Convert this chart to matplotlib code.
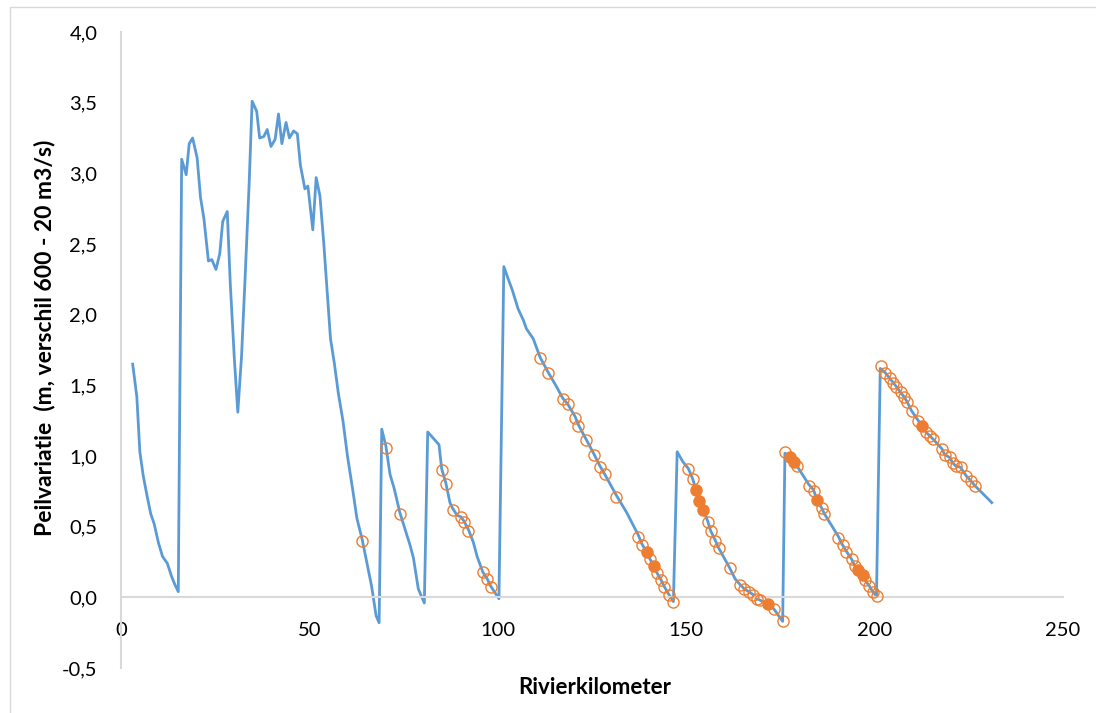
import matplotlib
matplotlib.use("Agg")
import matplotlib.pyplot as plt
from matplotlib.patches import Rectangle

# blauwe lijn: peilvariatie langs de rivier
km = [3.1, 4.2, 5.0, 5.9, 6.9, 7.9, 8.8, 9.9, 11.0, 12.3, 13.4, 14.3, 15.2,
      16.1, 17.3, 18.1, 19.0, 20.2, 21.1, 22.0, 23.2, 24.1, 25.2, 26.2, 27.0,
      28.2, 29.0, 30.1, 31.0, 32.0, 32.9, 34.0, 34.8, 36.0, 36.8, 37.9, 38.8,
      39.8, 40.9, 41.8, 42.7, 43.8, 44.7, 45.8, 46.8, 47.6, 48.8, 49.6, 50.9,
      51.8, 52.8, 53.8, 55.6, 56.6, 57.7, 58.9, 60.1, 61.5, 62.6, 64.0, 66.5,
      67.7, 68.5, 69.2, 70.3, 71.4, 72.5, 74.0, 75.4, 76.7, 77.6, 78.9, 80.5,
      81.4, 84.4, 85.1, 86.2, 87.3, 88.0, 89.2, 90.2, 91.0, 92.2, 93.5, 94.5,
      96.0, 97.2, 98.1, 100.3, 101.6, 102.8, 103.9, 105.4, 106.8, 107.6, 109.4,
      111.2, 113.2, 115.6, 117.2, 118.5, 120.5, 121.4, 123.4, 125.4, 127.1,
      128.4, 131.5, 134.2, 137.3, 138.2, 139.5, 140.4, 141.5, 142.3, 143.2,
      144.1, 145.4, 146.6, 147.6, 149.1, 150.6, 151.7, 152.6, 153.5, 154.5,
      155.7, 156.5, 157.6, 158.6, 161.5, 163.0, 164.3, 165.4, 166.6, 167.7,
      168.8, 169.6, 171.6, 173.2, 175.6, 176.2, 177.6, 178.5, 179.4, 182.5,
      183.8, 184.7, 186.0, 186.7, 190.4, 191.3, 192.4, 193.9, 194.8, 195.7,
      196.8, 197.5, 198.6, 199.5, 200.5, 201.5, 202.8, 204.0, 204.9, 205.8,
      206.9, 207.8, 208.7, 209.8, 211.6, 212.7, 213.6, 214.7, 215.5, 217.9,
      218.6, 219.9, 220.8, 221.5, 222.8, 224.3, 225.7, 226.6, 228.5, 231.1]
peil = [1.65, 1.42, 1.03, 0.86, 0.72, 0.59, 0.52, 0.39, 0.29, 0.24, 0.15, 0.09, 0.04,
        3.10, 2.99, 3.21, 3.25, 3.11, 2.83, 2.68, 2.38, 2.39, 2.32, 2.43, 2.66,
        2.73, 2.22, 1.68, 1.31, 1.71, 2.24, 2.92, 3.51, 3.44, 3.25, 3.26, 3.31,
        3.19, 3.24, 3.42, 3.21, 3.36, 3.25, 3.30, 3.28, 3.06, 2.89, 2.91, 2.60,
        2.97, 2.84, 2.51, 1.83, 1.66, 1.44, 1.25, 1.00, 0.76, 0.56, 0.41, 0.08,
        -0.13, -0.18, 1.19, 1.07, 0.87, 0.77, 0.60, 0.48, 0.37, 0.28, 0.06, -0.04,
        1.17, 1.08, 0.91, 0.81, 0.67, 0.63, 0.58, 0.57, 0.54, 0.48, 0.39, 0.29,
        0.18, 0.13, 0.08, -0.01, 2.34, 2.25, 2.17, 2.04, 1.96, 1.90, 1.83,
        1.70, 1.60, 1.49, 1.41, 1.37, 1.28, 1.22, 1.12, 1.02, 0.93,
        0.87, 0.72, 0.60, 0.44, 0.38, 0.32, 0.27, 0.22, 0.17, 0.13,
        0.08, 0.02, -0.03, 1.03, 0.96, 0.91, 0.84, 0.76, 0.68, 0.62,
        0.54, 0.47, 0.41, 0.35, 0.21, 0.13, 0.09, 0.06, 0.04, 0.02,
        -0.01, -0.02, -0.05, -0.08, -0.17, 1.02, 0.99, 0.96, 0.93, 0.80,
        0.76, 0.69, 0.63, 0.59, 0.43, 0.38, 0.33, 0.27, 0.22, 0.19,
        0.16, 0.12, 0.08, 0.04, 0.01, 1.62, 1.59, 1.55, 1.52, 1.49,
        1.45, 1.42, 1.38, 1.32, 1.25, 1.21, 1.17, 1.14, 1.12, 1.05,
        1.01, 0.99, 0.95, 0.93, 0.92, 0.86, 0.82, 0.79, 0.74, 0.67]

# open cirkels
open_km = [64.0, 70.3, 74.0, 85.1, 86.2, 88.0, 90.2, 91.0, 92.2, 96.0, 97.2, 98.1,
           111.2, 113.2, 117.2, 118.5, 120.5, 121.4, 123.4, 125.4, 127.1, 128.4,
           131.5, 137.3, 138.2, 140.4, 142.3, 143.2, 144.1, 145.4, 146.6,
           150.6, 151.7, 155.7, 156.5, 157.6, 158.6, 161.5, 164.3, 165.4, 166.6,
           167.7, 168.8, 169.6, 173.2, 175.6, 176.2, 179.4, 182.5, 183.8, 186.0,
           186.7, 190.4, 191.5, 192.4, 193.9, 194.8, 197.5, 198.6, 199.5, 200.7,
           201.7, 202.8, 204.0, 204.9, 205.8, 206.9, 207.8, 208.7, 209.8, 211.6,
           213.6, 214.7, 215.5, 217.9, 218.6, 219.9, 220.8, 221.5, 222.8, 224.3,
           225.7, 226.6]
open_peil = [0.40, 1.06, 0.59, 0.90, 0.80, 0.62, 0.57, 0.53, 0.47, 0.18, 0.13, 0.07,
             1.69, 1.59, 1.40, 1.37, 1.27, 1.21, 1.11, 1.01, 0.92, 0.87,
             0.71, 0.43, 0.37, 0.27, 0.17, 0.12, 0.07, 0.02, -0.03,
             0.91, 0.84, 0.53, 0.47, 0.40, 0.35, 0.21, 0.09, 0.06, 0.04,
             0.02, -0.01, -0.02, -0.08, -0.17, 1.03, 0.93, 0.79, 0.75, 0.63,
             0.59, 0.42, 0.37, 0.32, 0.27, 0.22, 0.12, 0.08, 0.04, 0.01,
             1.64, 1.59, 1.55, 1.52, 1.49, 1.45, 1.42, 1.38, 1.32, 1.25,
             1.17, 1.14, 1.12, 1.05, 1.01, 0.99, 0.95, 0.93, 0.92, 0.86,
             0.82, 0.79]

# gevulde punten
vol_km = [139.5, 141.5, 152.6, 153.5, 154.5, 171.6, 177.6, 178.5, 184.7, 195.7, 196.8, 212.7]
vol_peil = [0.32, 0.22, 0.76, 0.68, 0.62, -0.05, 0.99, 0.96, 0.69, 0.19, 0.16, 1.21]

blauw = '#5B9BD5'
oranje = '#ED7D31'
grijs = '#D9D9D9'

plt.rcParams['font.family'] = ['Lato', 'DejaVu Sans']

fig = plt.figure(figsize=(10.96, 7.13), dpi=100)
ax = fig.add_axes([121/1096, 1-668/713, (1063-121)/1096, (668-32)/713])

fig.patches.append(Rectangle((10/1096, -0.05), 1.1, 1-7/713+0.05, transform=fig.transFigure,
                             fill=False, edgecolor=grijs, linewidth=1.0))

ax.plot(km, peil, color=blauw, linewidth=2.0, zorder=2)
ax.plot(open_km, open_peil, linestyle='none', marker='o', markersize=8,
        markerfacecolor='none', markeredgecolor=oranje, markeredgewidth=1.0, zorder=3)
ax.plot(vol_km, vol_peil, linestyle='none', marker='o', markersize=8,
        markerfacecolor=oranje, markeredgecolor=oranje, markeredgewidth=1.0, zorder=4)

ax.set_xlim(0, 250)
ax.set_ylim(-0.5, 4.0)
ax.set_xticks([0, 50, 100, 150, 200, 250])
ax.set_yticks([-0.5, 0, 0.5, 1.0, 1.5, 2.0, 2.5, 3.0, 3.5, 4.0])
ax.set_yticklabels([f'{v:.1f}'.replace('.', ',') for v in ax.get_yticks()])

ax.spines['top'].set_visible(False)
ax.spines['right'].set_visible(False)
ax.spines['bottom'].set_position(('data', 0))
for s in ['left', 'bottom']:
    ax.spines[s].set_color(grijs)
    ax.spines[s].set_linewidth(1.5)
ax.tick_params(axis='both', length=0, labelsize=14.5, colors='#000000')
ax.tick_params(axis='x', pad=18)
ax.tick_params(axis='y', pad=17)

fig.text(595/1096, 1-688/713, 'Rivierkilometer', ha='center', va='center',
         fontsize=16, fontweight='bold')
fig.text(45/1096, 1-338/713, 'Peilvariatie  (m, verschil 600 - 20 m3/s)', ha='center',
         va='center', rotation=90, fontsize=16.5, fontweight='bold')

fig.savefig('out.png', dpi=100)
